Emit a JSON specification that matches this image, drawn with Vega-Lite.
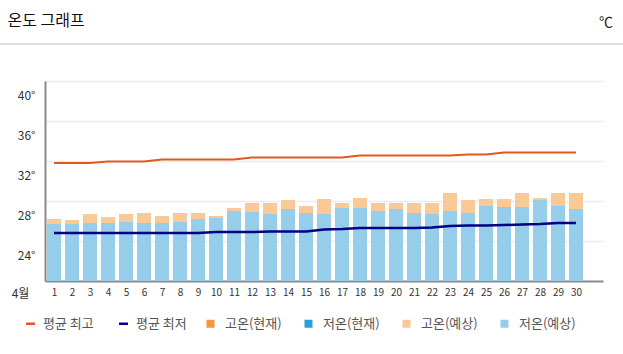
{
  "$schema": "https://vega.github.io/schema/vega-lite/v6.json",
  "width": 558,
  "height": 200,
  "autosize": {"type": "none"},
  "padding": {"left": 45, "top": 81, "right": 20, "bottom": 73},
  "background": "white",
  "title": {"text": "℃", "anchor": "end", "frame": "group", "dx": 10, "dy": 18, "fontSize": 14, "fontWeight": "normal", "color": "#222", "offset": 0},
  "config": {
    "font": "Noto Sans CJK KR",
    "view": {"stroke": null},
    "axis": {"labelFont": "Noto Sans CJK KR", "titleFont": "Noto Sans CJK KR"},
    "axisX": {"labelOverlap": false, "labelFlush": false},
    "axisQuantitative": {"labelOverlap": false},
    "legend": {"labelFont": "Noto Sans CJK KR"}
  },
  "data": {
    "values": [
      {"day": 1, "lo": 25.7, "hi": 26.2, "amax": 31.8, "amin": 24.8},
      {"day": 2, "lo": 25.7, "hi": 26.1, "amax": 31.8, "amin": 24.8},
      {"day": 3, "lo": 25.8, "hi": 26.7, "amax": 31.8, "amin": 24.8},
      {"day": 4, "lo": 25.8, "hi": 26.4, "amax": 31.95, "amin": 24.8},
      {"day": 5, "lo": 25.9, "hi": 26.7, "amax": 31.95, "amin": 24.8},
      {"day": 6, "lo": 25.8, "hi": 26.8, "amax": 31.95, "amin": 24.8},
      {"day": 7, "lo": 25.8, "hi": 26.5, "amax": 32.15, "amin": 24.8},
      {"day": 8, "lo": 25.9, "hi": 26.8, "amax": 32.15, "amin": 24.8},
      {"day": 9, "lo": 26.2, "hi": 26.8, "amax": 32.15, "amin": 24.8},
      {"day": 10, "lo": 26.3, "hi": 26.5, "amax": 32.15, "amin": 24.9},
      {"day": 11, "lo": 27.0, "hi": 27.3, "amax": 32.15, "amin": 24.9},
      {"day": 12, "lo": 26.9, "hi": 27.8, "amax": 32.35, "amin": 24.9},
      {"day": 13, "lo": 26.7, "hi": 27.8, "amax": 32.35, "amin": 24.95},
      {"day": 14, "lo": 27.2, "hi": 28.1, "amax": 32.35, "amin": 24.95},
      {"day": 15, "lo": 26.8, "hi": 27.5, "amax": 32.35, "amin": 24.95},
      {"day": 16, "lo": 26.7, "hi": 28.2, "amax": 32.35, "amin": 25.15},
      {"day": 17, "lo": 27.3, "hi": 27.8, "amax": 32.35, "amin": 25.2},
      {"day": 18, "lo": 27.3, "hi": 28.3, "amax": 32.55, "amin": 25.3},
      {"day": 19, "lo": 27.0, "hi": 27.8, "amax": 32.55, "amin": 25.3},
      {"day": 20, "lo": 27.2, "hi": 27.8, "amax": 32.55, "amin": 25.3},
      {"day": 21, "lo": 26.8, "hi": 27.8, "amax": 32.55, "amin": 25.3},
      {"day": 22, "lo": 26.7, "hi": 27.8, "amax": 32.55, "amin": 25.35},
      {"day": 23, "lo": 27.0, "hi": 28.8, "amax": 32.55, "amin": 25.5},
      {"day": 24, "lo": 26.8, "hi": 28.1, "amax": 32.65, "amin": 25.55},
      {"day": 25, "lo": 27.5, "hi": 28.2, "amax": 32.65, "amin": 25.55},
      {"day": 26, "lo": 27.4, "hi": 28.2, "amax": 32.85, "amin": 25.6},
      {"day": 27, "lo": 27.4, "hi": 28.8, "amax": 32.85, "amin": 25.65},
      {"day": 28, "lo": 28.1, "hi": 28.3, "amax": 32.85, "amin": 25.7},
      {"day": 29, "lo": 27.5, "hi": 28.8, "amax": 32.85, "amin": 25.8},
      {"day": 30, "lo": 27.2, "hi": 28.8, "amax": 32.85, "amin": 25.8}
    ]
  },
  "encoding": {
    "x": {
      "field": "day", "type": "quantitative",
      "scale": {"domain": [0.5, 31.5], "nice": false, "zero": false, "padding": 0},
      "axis": {
        "values": [1,2,3,4,5,6,7,8,9,10,11,12,13,14,15,16,17,18,19,20,21,22,23,24,25,26,27,28,29,30],
        "labelOverlap": false, "labelFlush": false, "labelBound": false, "labelSeparation": 0,
        "grid": false, "ticks": false, "labelFontSize": 10, "labelColor": "#333", "labelPadding": 6,
        "domainColor": "#8a8a8a", "domainWidth": 2,
        "title": "4월", "titleX": -25, "titleY": 12, "titleAlign": "center", "titleBaseline": "middle",
        "titleFontSize": 12, "titleFontWeight": "normal", "titleColor": "#333"
      }
    }
  },
  "layer": [
    {
      "mark": {"type": "bar", "width": 14},
      "encoding": {
        "y": {
          "field": "lo", "type": "quantitative",
          "scale": {"domain": [20, 40], "nice": false, "zero": false, "padding": 0},
          "axis": {
            "values": [24, 28, 32, 36, 40],
            "labelExpr": "datum.value + '°'",
            "grid": true, "gridColor": "#ebebeb", "gridWidth": 1.5,
            "ticks": false, "labelFontSize": 12, "labelColor": "#333", "labelPadding": 10, "labelOffset": 14,
            "domainColor": "#8a8a8a", "domainWidth": 2,
            "title": "온도 그래프", "titleX": -38, "titleY": -61, "titleAngle": 0, "titleAlign": "left", "titleBaseline": "middle",
            "titleFontSize": 16, "titleFontWeight": "normal", "titleColor": "#111"
          }
        },
        "y2": {"datum": 20},
        "fill": {
          "datum": "저온(예상)",
          "scale": {"domain": ["고온(현재)", "저온(현재)", "고온(예상)", "저온(예상)"], "range": ["#f7963d", "#2c9fd9", "#fbc995", "#96cdea"]},
          "legend": {"orient": "none", "legendX": 159, "legendY": 236, "direction": "horizontal", "symbolType": "square", "symbolSize": 64, "columnPadding": 20, "labelOffset": 8, "labelFontSize": 13, "labelColor": "#555", "title": null}
        }
      }
    },
    {
      "mark": {"type": "bar", "width": 14},
      "encoding": {
        "y": {"field": "hi", "type": "quantitative"},
        "y2": {"field": "lo"},
        "fill": {"datum": "고온(예상)"}
      }
    },
    {
      "mark": {"type": "line", "strokeWidth": 2},
      "encoding": {
        "y": {"field": "amax", "type": "quantitative"},
        "stroke": {
          "datum": "평균 최고",
          "scale": {"domain": ["평균 최고", "평균 최저"], "range": ["#e2581e", "#000080"]},
          "legend": {"orient": "none", "legendX": -21, "legendY": 236, "direction": "horizontal", "symbolType": "stroke", "symbolSize": 80, "symbolStrokeWidth": 2.5, "columnPadding": 20, "labelOffset": 6, "labelFontSize": 13, "labelColor": "#555", "title": null}
        }
      }
    },
    {
      "mark": {"type": "line", "strokeWidth": 2.5},
      "encoding": {
        "y": {"field": "amin", "type": "quantitative"},
        "stroke": {"datum": "평균 최저"}
      }
    },
    {
      "mark": {"type": "rule", "color": "#dddddd", "strokeWidth": 1},
      "encoding": {
        "x": {"datum": -2, "type": "quantitative"},
        "x2": {"datum": 34},
        "y": {"datum": 43.7, "type": "quantitative"}
      }
    }
  ]
}
